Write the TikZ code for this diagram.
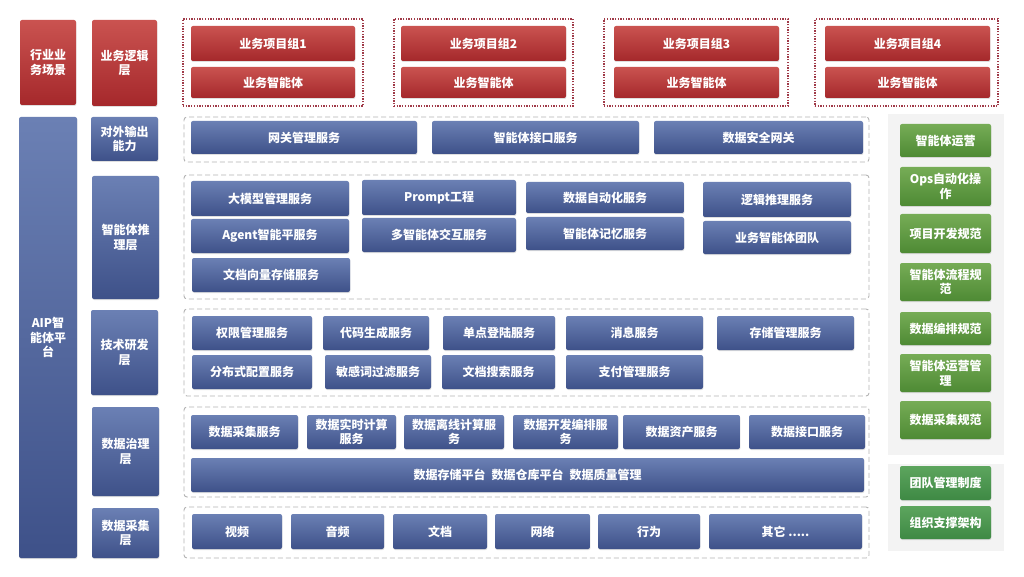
\documentclass[tikz,border=0pt]{standalone}
\usepackage{fontspec}
\setmainfont{Noto Sans CJK SC}
\usetikzlibrary{shadows}
\definecolor{bluet}{HTML}{6B80B4}
\definecolor{blueb}{HTML}{3E5189}
\definecolor{redt}{HTML}{CA5350}
\definecolor{redb}{HTML}{A5282B}
\definecolor{greent}{HTML}{76AC56}
\definecolor{greenb}{HTML}{4E8A34}
\definecolor{greenbt}{HTML}{5DA55E}
\definecolor{greenbb}{HTML}{3E8944}
\definecolor{dashgrey}{HTML}{B4B4B4}
\definecolor{dotred}{HTML}{A03A48}
\definecolor{panelgrey}{HTML}{F3F3F3}
\tikzset{
  base/.style={draw=none, rounded corners=2pt, text=white, align=center, inner sep=1pt,
    font=\fontsize{12}{14.5}\selectfont\bfseries,
    drop shadow={shadow xshift=0.4pt, shadow yshift=-1pt, opacity=.25}},
  bluebox/.style={base, top color=bluet, bottom color=blueb},
  redbox/.style={base, top color=redt, bottom color=redb},
  greenbox/.style={base, top color=greent, bottom color=greenb},
  greenboxb/.style={base, top color=greenbt, bottom color=greenbb},
  layer/.style={draw=dashgrey, line width=0.9pt, dash pattern=on 5pt off 3pt, rounded corners=3pt, inner sep=0pt},
  redgroup/.style={draw=dotred, line width=1.3pt, dash pattern=on 1.3pt off 1.4pt, inner sep=0pt},
  panel/.style={fill=panelgrey, draw=none, inner sep=0pt},
}
\newcommand\Bx[7]{\node[#1, minimum width={(#5-#3)*1pt}, minimum height={(#6-#4)*1pt}] (#2) at ({(#3+#5)/2},{(#4+#6)/2}) {#7};}
\begin{document}
\begin{tikzpicture}[x=1pt,y=-1pt]
\useasboundingbox[fill=white] (0,0) rectangle (1024,577);
% left column
\Bx{redbox}{hy}{20}{20}{76}{105}{行业业\\务场景}
\Bx{redbox}{yw}{92}{20}{157}{106}{业务逻辑\\层}
\Bx{bluebox}{aip}{19}{117}{77}{558}{AIP智\\能体平\\台}
\Bx{bluebox}{dw}{91}{117}{158}{161}{对外输出\\能力}
\Bx{bluebox}{tl}{92}{176}{159}{299}{智能体推\\理层}
\Bx{bluebox}{js}{91}{310}{158}{395}{技术研发\\层}
\Bx{bluebox}{zl}{92}{407}{159}{496}{数据治理\\层}
\Bx{bluebox}{cj}{92}{508}{159}{558}{数据采集\\层}
% business groups
\Bx{redgroup}{g1}{183}{19}{363}{106}{}
\Bx{redgroup}{g2}{394}{19}{573}{106}{}
\Bx{redgroup}{g3}{604}{19}{788}{106}{}
\Bx{redgroup}{g4}{815}{19}{998}{106}{}
\Bx{redbox}{g1a}{191}{26}{355}{61}{业务项目组1}
\Bx{redbox}{g1b}{191}{67}{355}{98}{业务智能体}
\Bx{redbox}{g2a}{401}{26}{566}{61}{业务项目组2}
\Bx{redbox}{g2b}{401}{67}{566}{98}{业务智能体}
\Bx{redbox}{g3a}{614}{26}{779}{61}{业务项目组3}
\Bx{redbox}{g3b}{614}{67}{779}{98}{业务智能体}
\Bx{redbox}{g4a}{825}{26}{990}{61}{业务项目组4}
\Bx{redbox}{g4b}{825}{67}{990}{98}{业务智能体}
% output layer
\Bx{layer}{L1}{184}{117}{869}{162}{}
\Bx{bluebox}{o1}{191}{121}{417}{154}{网关管理服务}
\Bx{bluebox}{o2}{432}{121}{639}{154}{智能体接口服务}
\Bx{bluebox}{o3}{654}{121}{863}{154}{数据安全网关}
% inference layer
\Bx{layer}{L2}{184}{175}{869}{299}{}
\Bx{bluebox}{i1}{191}{181}{349}{216}{大模型管理服务}
\Bx{bluebox}{i2}{191}{219}{349}{253}{Agent智能平服务}
\Bx{bluebox}{i3}{192}{258}{350}{292}{文档向量存储服务}
\Bx{bluebox}{i4}{362}{180}{516}{215}{Prompt工程}
\Bx{bluebox}{i5}{362}{218}{516}{252}{多智能体交互服务}
\Bx{bluebox}{i6}{526}{182}{684}{213}{数据自动化服务}
\Bx{bluebox}{i7}{526}{217}{684}{250}{智能体记忆服务}
\Bx{bluebox}{i8}{703}{182}{851}{217}{逻辑推理服务}
\Bx{bluebox}{i9}{703}{221}{851}{254}{业务智能体团队}
% tech layer
\Bx{layer}{L3}{184}{309}{869}{396}{}
\Bx{bluebox}{t1}{192}{316}{312}{350}{权限管理服务}
\Bx{bluebox}{t2}{323}{316}{429}{350}{代码生成服务}
\Bx{bluebox}{t3}{443}{316}{555}{350}{单点登陆服务}
\Bx{bluebox}{t4}{566}{316}{703}{350}{消息服务}
\Bx{bluebox}{t5}{717}{316}{854}{350}{存储管理服务}
\Bx{bluebox}{t6}{192}{355}{312}{389}{分布式配置服务}
\Bx{bluebox}{t7}{325}{355}{431}{389}{敏感词过滤服务}
\Bx{bluebox}{t8}{442}{355}{555}{389}{文档搜索服务}
\Bx{bluebox}{t9}{566}{355}{703}{389}{支付管理服务}
% governance layer
\Bx{layer}{L4}{184}{407}{869}{497}{}
\Bx{bluebox}{d1}{191}{415}{298}{449}{数据采集服务}
\Bx{bluebox}{d2}{307}{415}{396}{449}{数据实时计算\\服务}
\Bx{bluebox}{d3}{404}{415}{504}{449}{数据离线计算服\\务}
\Bx{bluebox}{d4}{513}{415}{618}{449}{数据开发编排服\\务}
\Bx{bluebox}{d5}{623}{415}{740}{449}{数据资产服务}
\Bx{bluebox}{d6}{749}{415}{865}{449}{数据接口服务}
\Bx{bluebox}{d7}{191}{458}{864}{492}{数据存储平台\hspace{0.5em}数据仓库平台\hspace{0.5em}数据质量管理}
% collection layer
\Bx{layer}{L5}{184}{507}{869}{558}{}
\Bx{bluebox}{c1}{192}{514}{282}{549}{视频}
\Bx{bluebox}{c2}{291}{514}{384}{549}{音频}
\Bx{bluebox}{c3}{393}{514}{487}{549}{文档}
\Bx{bluebox}{c4}{495}{514}{590}{549}{网络}
\Bx{bluebox}{c5}{598}{514}{700}{549}{行为}
\Bx{bluebox}{c6}{709}{514}{862}{549}{其它 .....}
% right panels
\Bx{panel}{P1}{888}{114}{1004}{455}{}
\Bx{panel}{P2}{888}{464}{1004}{551}{}
\Bx{greenbox}{r1}{900}{124}{991}{157}{智能体运营}
\Bx{greenbox}{r2}{900}{167}{991}{206}{Ops自动化操\\作}
\Bx{greenbox}{r3}{900}{214}{991}{253}{项目开发规范}
\Bx{greenbox}{r4}{900}{263}{991}{301}{智能体流程规\\范}
\Bx{greenbox}{r5}{900}{312}{991}{345}{数据编排规范}
\Bx{greenbox}{r6}{900}{354}{991}{392}{智能体运营管\\理}
\Bx{greenbox}{r7}{900}{401}{991}{439}{数据采集规范}
\Bx{greenboxb}{r8}{900}{466}{991}{500}{团队管理制度}
\Bx{greenboxb}{r9}{900}{506}{991}{539}{组织支撑架构}
\end{tikzpicture}
\end{document}
